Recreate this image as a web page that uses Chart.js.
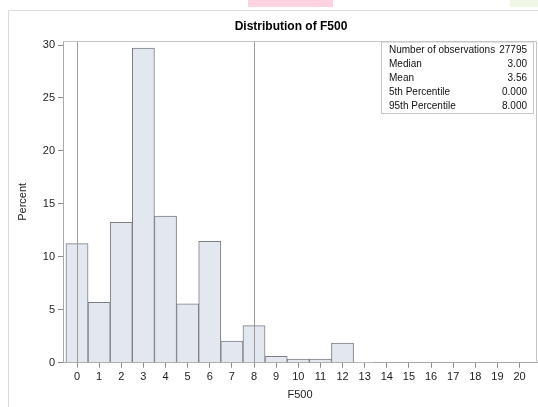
<!DOCTYPE html>
<html>
<head>
<meta charset="utf-8">
<script src="https://cdn.jsdelivr.net/npm/chart.js@4.4.1/dist/chart.umd.min.js"></script>
<style>
  html, body { margin: 0; padding: 0; background: #fff; }
  #wrap { position: relative; width: 538px; height: 407px; }
  .smudge { position: absolute; top: 0; height: 7px; }
</style>
</head>
<body>
<div id="wrap">
  <canvas id="histChart" width="538" height="407"></canvas>
  <div class="smudge" style="left:248px;width:85px;background:#fdd3e1;"></div>
  <div class="smudge" style="left:510px;width:28px;background:#eef6e4;"></div>
</div>
<script>
// F500 histogram values (percent of observations per bin)
const binCenters = [0, 1, 2, 3, 4, 5, 6, 7, 8, 9, 10, 11, 12, 13, 14, 15, 16, 17, 18, 19, 20];
const percentValues = [11.25, 5.7, 13.25, 29.7, 13.85, 5.55, 11.45, 2.05, 3.5, 0.6, 0.35, 0.35, 1.85, 0.06, 0, 0, 0, 0, 0, 0, 0];
const yTicks = [0, 5, 10, 15, 20, 25, 30];
const refLines = [0, 8]; // 5th and 95th percentile
const statLabels = ['Number of observations', 'Median', 'Mean', '5th Percentile', '95th Percentile'];
const statValues = ['27795', '3.00', '3.56', '0.000', '8.000'];

Chart.defaults.font.family = '"Liberation Sans", Arial, sans-serif';
Chart.defaults.color = '#333';

const decorations = {
    id: 'decorations',
    beforeDraw(chart) {
        const c = chart.ctx;
        c.save();
        c.strokeStyle = '#dcdcdc';
        c.lineWidth = 1;
        c.beginPath();
        c.moveTo(8.5, 407);
        c.lineTo(8.5, 10.5);
        c.lineTo(538, 10.5);
        c.stroke();
        c.fillStyle = '#000';
        c.font = 'bold 12px "Liberation Sans", Arial, sans-serif';
        c.textAlign = 'center';
        c.textBaseline = 'middle';
        c.fillText('Distribution of F500', 291, 27);
        c.restore();
    },
    afterDatasetsDraw(chart) {
        const c = chart.ctx;
        const area = chart.chartArea;
        const x = chart.scales.x;
        c.save();
        // reference lines
        c.strokeStyle = '#9c9c9c';
        c.lineWidth = 1;
        refLines.forEach(v => {
            const px = Math.round(x.getPixelForValue(v)) + 0.5;
            c.beginPath();
            c.moveTo(px, area.top);
            c.lineTo(px, area.bottom);
            c.stroke();
        });
        // top and right frame
        c.strokeStyle = '#c4c4c4';
        c.beginPath();
        c.moveTo(area.left, area.top + 0.5);
        c.lineTo(area.right - 0.5, area.top + 0.5);
        c.lineTo(area.right - 0.5, area.bottom);
        c.stroke();
        // statistics inset
        const boxL = 381.5, boxR = 533.5, boxT = area.top + 1, boxB = 113.5;
        c.fillStyle = '#fff';
        c.fillRect(boxL, boxT, boxR - boxL, boxB - boxT);
        c.strokeStyle = '#c8c8c8';
        c.strokeRect(boxL, boxT, boxR - boxL, boxB - boxT);
        c.fillStyle = '#111';
        c.font = '10px "Liberation Sans", Arial, sans-serif';
        c.textBaseline = 'middle';
        statLabels.forEach((lab, i) => {
            const y = 50 + i * 14;
            c.textAlign = 'left';
            c.fillText(lab, 389, y);
            c.textAlign = 'right';
            c.fillText(statValues[i], 527, y);
        });
        c.restore();
    }
};

const ctx = document.getElementById('histChart').getContext('2d');
const histChart = new Chart(ctx, {
    type: 'bar',
    data: {
        datasets: [{
            label: 'F500',
            data: binCenters.map((b, i) => ({ x: b, y: percentValues[i] })),
            backgroundColor: '#e2e7f0',
            borderColor: '#7c7e84',
            borderWidth: 1,
            borderSkipped: 'bottom',
            barPercentage: 1,
            categoryPercentage: 1
        }]
    },
    options: {
        responsive: false,
        animation: false,
        layout: { padding: { top: 41, right: 1, left: 0, bottom: 0 } },
        plugins: {
            legend: { display: false },
            tooltip: { enabled: false }
        },
        scales: {
            x: {
                type: 'linear',
                offset: false,
                min: -0.633,
                max: 20.79,
                afterBuildTicks: s => { s.ticks = binCenters.map(v => ({ value: v })); },
                afterFit: s => { s.height = 44.3; },
                grid: { offset: false, drawOnChartArea: false, tickLength: 5, color: '#8a8a8a' },
                border: { color: '#a8a8a8' },
                ticks: { padding: 3, maxRotation: 0, autoSkip: false, font: { size: 11 }, color: '#222' },
                title: { display: true, text: 'F500', font: { size: 11 }, color: '#222', padding: { top: 0, bottom: 5 } }
            },
            y: {
                min: 0,
                max: 30.38,
                afterBuildTicks: s => { s.ticks = yTicks.map(v => ({ value: v })); },
                afterFit: s => { s.width = 63; },
                grid: { drawOnChartArea: false, tickLength: 5, color: '#8a8a8a' },
                border: { color: '#a8a8a8' },
                ticks: { padding: 3, font: { size: 11 }, color: '#222' },
                title: { display: true, text: 'Percent', font: { size: 11 }, color: '#222', padding: { top: 16, bottom: 0 } }
            }
        }
    },
    plugins: [decorations]
});
</script>
</body>
</html>
